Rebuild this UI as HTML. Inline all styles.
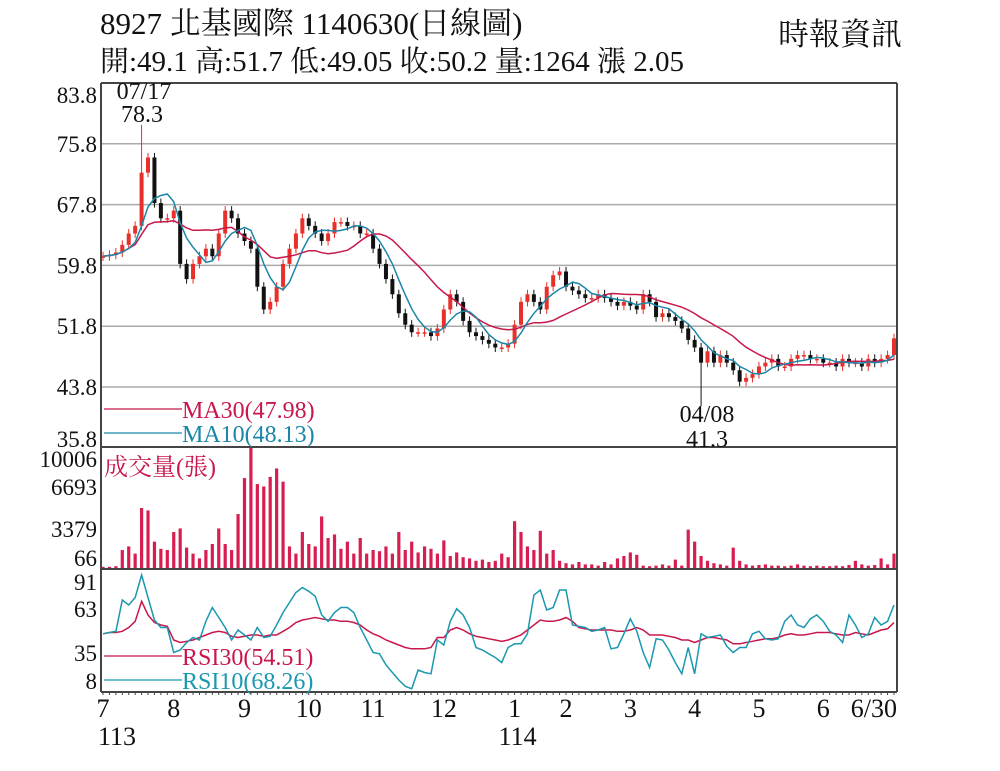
<!DOCTYPE html>
<html><head><meta charset="utf-8">
<style>
body{margin:0;background:#fff;}
svg{display:block;font-family:"Liberation Serif","Noto Serif CJK TC",serif;}
</style></head>
<body>
<svg id="chart" width="1000" height="771" viewBox="0 0 1000 771">
<text x="100" y="34" font-size="31" fill="#111">8927  北基國際 1140630(日線圖)</text>
<text x="100" y="71" font-size="29" fill="#111">開:49.1 高:51.7 低:49.05 收:50.2 量:1264 漲 2.05</text>
<text x="778" y="45" font-size="31" fill="#111">時報資訊</text>
<g id="grid"></g>
<g id="marks"></g>
<g id="frame"></g>
</svg>
<script>
const closes=[61,61.2,61.5,62.5,64,65,72,74,68,66,66,67,60,58,60,61,62,61,64,67,66,64,63,62,57,54,55,57,60,62,64,66,65,64,63,64,65.5,65.5,65,65,64,64,62,60,58,56,53.5,52,51,51,51,50.5,51.5,54,56,55,52.5,51,50.5,50,49.5,49,49,49.5,52,55,56,55,54,57,58.5,59,57,56.5,56,55.5,55.5,56,55.5,55,54.5,55,54.5,54,56,55,53,53.5,53,52.5,51.5,50,49,47,48.5,47,48,47,46,44.5,45,45.5,46.5,47,47.5,46.5,46.5,47.5,48,48,47.5,47.5,47,47,46.5,47.5,47,47,46.5,47.5,47,47.5,48,50.2];
const volumes=[100,100,150,1500,1800,1200,5000,4800,2200,1600,1500,3000,3300,1700,1200,800,1500,2000,3300,2000,1500,4500,7500,10006,7000,6800,7600,8300,7200,1800,1200,3000,2000,1800,4300,2500,2800,1600,2200,1200,2500,1200,1500,1400,1800,1200,3000,1500,2200,1300,1800,1600,1200,2300,1000,1300,900,800,600,700,500,600,1200,900,3900,3000,1800,1500,3100,1200,1500,600,400,300,500,300,300,200,500,300,800,1000,1300,1100,200,150,200,300,200,700,200,3200,2200,1000,600,400,300,200,1700,600,300,200,250,300,200,200,150,200,300,200,150,200,150,150,200,150,250,600,300,200,250,800,300,1200];
const rsi10=[45,46,47,72,68,74,92,74,56,50,50,30,32,38,42,40,55,66,58,50,40,48,44,40,50,42,43,52,62,70,78,82,79,75,60,55,62,66,66,62,50,40,30,29,20,14,8,3,1,16,14,13,40,36,55,65,60,50,34,32,29,26,22,34,37,37,45,76,80,64,66,80,80,52,51,50,47,48,50,33,34,45,57,47,30,18,41,40,32,22,13,34,13,45,42,43,44,35,30,34,34,45,47,41,40,41,55,60,52,50,57,60,55,47,44,38,60,52,42,45,58,52,55,68];
const rsi30=[45,46,46,47,50,55,71,60,54,52,51,40,38,39,40,42,44,46,47,46,43,42,43,44,44,43,44,44,47,50,54,56,57,58,57,56,56,55,55,54,52,48,45,43,40,38,36,34,33,33,33,34,42,42,48,50,48,45,43,42,41,40,39,40,42,44,48,52,56,55,55,56,58,55,50,49,48,48,48,48,47,47,48,50,48,44,44,44,43,42,40,40,38,40,42,42,41,40,37,37,38,39,40,41,41,42,44,45,44,44,45,46,46,46,45,44,44,46,45,44,46,48,49,54];
const priceTicks=["83.8","75.8","67.8","59.8","51.8","43.8","35.8"];
const volTicks=["10006","6693","3379","66"];
const rsiTicks=["91","63","35","8"];
const months=["7","8","9","10","11","12","1","2","3","4","5","6","6/30"];
const monthIdx=[0,11,22,32,42,53,64,72,82,92,102,112,123];

const L=101,R=896,N=closes.length;
const X=i=>L+2+i*(R-2-L-2)/(N-1);
const PY=p=>83+(83.8-p)*7.6;
const VY=v=>568-v*120/10006;
const RY=v=>690-v*1.25;
const NS='http://www.w3.org/2000/svg';
function mk(tag,attrs,parent,txt){const e=document.createElementNS(NS,tag);for(const k in attrs)e.setAttribute(k,attrs[k]);if(txt!==undefined)e.textContent=txt;parent.appendChild(e);return e;}
const grid=document.getElementById('grid'),marks=document.getElementById('marks'),frame=document.getElementById('frame');

priceTicks.forEach((t,k)=>{const y=PY(+t);
 if(k>0&&k<6){const g=mk('line',{x1:L,x2:R,y1:y,y2:y,stroke:'#aaa','stroke-width':1.5},grid);
 
 }
 const tx=mk('text',{x:97,y:y+(k==0?20:k==6?-1:8),'font-size':23,'text-anchor':'end',fill:'#111'},grid,t);
 
 
});
const vyPos=[467,495,537,566];
volTicks.forEach((t,k)=>{const tx=mk('text',{x:97,y:vyPos[k],'font-size':23,'text-anchor':'end',fill:'#111'},grid,t);
 
 });
const ryPos=[590,617,661,689];
rsiTicks.forEach((t,k)=>{const tx=mk('text',{x:97,y:ryPos[k],'font-size':23,'text-anchor':'end',fill:'#111'},grid,t);
 
 });

for(let i=0;i<N;i++){
 const c=closes[i],o=i?closes[i-1]:c;const up=c>=o;const col=up?'#e8302a':'#111';
 let hi=Math.max(o,c)+0.6,lo=Math.min(o,c)-0.6;
 if(i==6)hi=78.3; if(i==93)lo=41.3;
 const x=X(i);
 const w=mk('line',{x1:x,x2:x,y1:PY(hi),y2:PY(lo),stroke:col,'stroke-width':1},marks);
 
 
 const top=PY(Math.max(o,c)),bh=Math.max(1.5,PY(Math.min(o,c))-top);
 const b=mk('rect',{x:x-2,y:top,width:4,height:bh,fill:col},marks);
 
 
}
function ma(n){return closes.map((_,i)=>{const s=closes.slice(Math.max(0,i-n+1),i+1);return s.reduce((a,b)=>a+b,0)/s.length;});}
function line(vals,fy,col,name){const p=mk('polyline',{points:vals.map((v,i)=>X(i).toFixed(1)+','+fy(v).toFixed(1)).join(' '),fill:'none',stroke:col,'stroke-width':1.5},marks);
 
 }
line(ma(15),PY,'#c8174a','ma30-line');
line(ma(5),PY,'#1a86a8','ma10-line');

volumes.forEach((v,i)=>{const r=mk('rect',{x:X(i)-1.6,y:VY(v),width:3.2,height:568-VY(v),fill:'#d81e50'},marks);
 
 });

line(rsi30,RY,'#c8174a','rsi30-line');
line(rsi10,RY,'#1a98b0','rsi10-line');

[[L,83,L,692],[R+1,83,R+1,692],[L,83,R+1,83],[L,447,R+1,447],[L,569,R+1,569],[L,692,R+1,692]].forEach(a=>{
 const f=mk('line',{x1:a[0],y1:a[1],x2:a[2],y2:a[3],stroke:'#444','stroke-width':2},frame);
 
 });
for(let i=0;i<N;i+=1){const t=mk('line',{x1:X(i),x2:X(i),y1:692,y2:695,stroke:'#444','stroke-width':1},frame);
 
 }
months.forEach((m,k)=>{const x=X(monthIdx[k]);
 const t=mk('text',{x:k==12?x+3:x,y:717,'font-size':26,'text-anchor':k==12?'end':'middle',fill:'#111'},frame,m);
 
 });
[[X(0)+14,'113'],[X(64)+3,'114']].forEach(a=>{const t=mk('text',{x:a[0],y:745,'font-size':26,'text-anchor':'middle',fill:'#111'},frame,a[1]);
 
 });

[[144,99,'07/17'],[142,122,'78.3'],[707,422,'04/08'],[707,447,'41.3']].forEach(a=>{
 const t=mk('text',{x:a[0],y:a[1],'font-size':24,'text-anchor':'middle',fill:'#111'},frame,a[2]);
 
 });

[[409,'#c8174a','MA30(47.98)'],[433,'#1a86a8','MA10(48.13)'],[656,'#c8174a','RSI30(54.51)'],[680,'#1a98b0','RSI10(68.26)']].forEach(a=>{
 const l=mk('line',{x1:104,x2:182,y1:a[0],y2:a[0],stroke:a[1],'stroke-width':1.2},frame);
 
 
 const t=mk('text',{x:182,y:a[0]+9,'font-size':24,fill:a[1]},frame,a[2]);
 
 });
const vl=mk('text',{x:104,y:475,'font-size':24,fill:'#c8174a'},frame,'成交量(張)');


</script>
</body></html>
